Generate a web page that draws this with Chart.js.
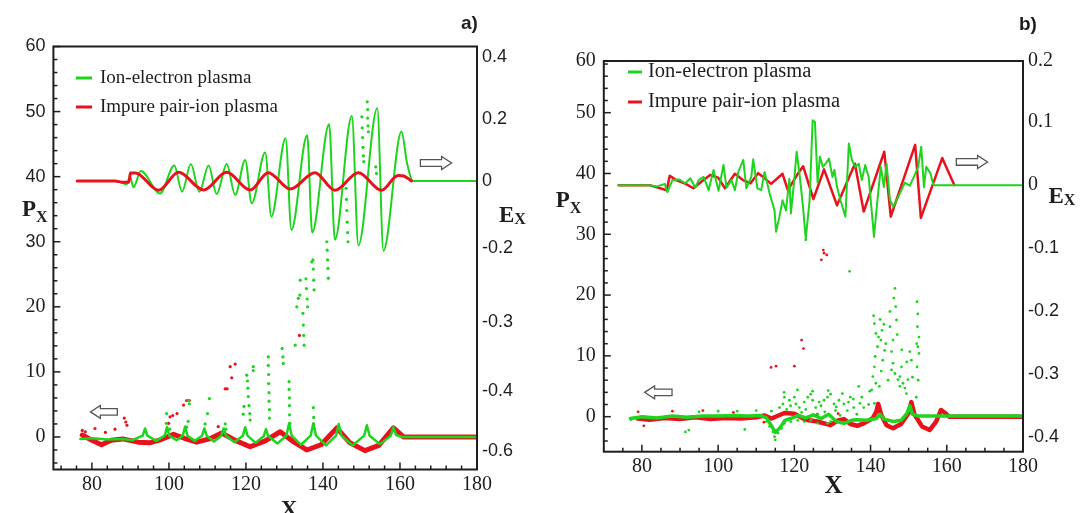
<!DOCTYPE html>
<html>
<head>
<meta charset="utf-8">
<script src="https://cdn.jsdelivr.net/npm/chart.js@4.4.1/dist/chart.umd.min.js"></script>
<style>
  html, body { margin: 0; padding: 0; background: #fff; }
  #wrap { position: relative; width: 1088px; height: 513px; overflow: hidden; }
  canvas { position: absolute; top: 0; }
  #chartA { left: 0; }
  #chartB { left: 540px; }
</style>
</head>
<body>
<div id="wrap">
  <canvas id="chartA" width="540" height="513"></canvas>
  <canvas id="chartB" width="548" height="513"></canvas>
</div>
<script>
// Shared
const xTicks = [80, 100, 120, 140, 160, 180];
const seriesNames = ["Ion-electron plasma", "Impure pair-ion plasma"];

// ---------- Panel a) ----------
// Electric field E_x (right axis), [x, Ex]
const aGreenEx = [[76.2, 0], [86, 0], [87.5, -0.004], [89, -0.011], [89.9, 0.014], [90.8, -0.02], [92.7, 0.032],
  [97.7, -0.04], [101.4, 0.05], [103.4, -0.035], [105.7, 0.055], [107.9, -0.035], [110.3, 0.05], [112.4, -0.042],
  [115, 0.055], [117.2, -0.045], [119.8, 0.068], [121.5, -0.072], [125, 0.092], [126.6, -0.115], [130.3, 0.138],
  [131.8, -0.158], [135.9, 0.148], [137.2, -0.166], [141.6, 0.183], [143.1, -0.19], [147.5, 0.21], [149.2, -0.208],
  [154.1, 0.235], [155.7, -0.225], [160.4, 0.16], [161.8, 0.06], [163.4, 0], [180, 0]];
const aRedEx = [[76.2, 0], [86, 0], [88, -0.004], [89.6, -0.004], [90.0, 0.026], [91.3, 0.026], [97.3, -0.03],
  [102.5, 0.028], [109, -0.029], [115, 0.028], [121.1, -0.029], [125.8, 0.027], [131.5, -0.026], [137.9, 0.027],
  [143.1, -0.03], [149.2, 0.027], [155.2, -0.03], [159.5, 0.018], [161, 0.016], [163, 0]];
// Momentum P_x (left axis), [x, Px]
const aGreenPx = [[77, -0.3], [80, -0.2], [84, -0.4], [88, -0.3], [90.5, -0.5], [93.2, 0.2], [93.8, 1.3], [94.4, 0.2],
  [96.7, -0.6], [98.9, 0.2], [99.5, 1.5], [100.1, 0.2], [102, -0.5], [103.6, 0.2], [104.2, 1.6], [104.8, 0.2],
  [106.7, -0.6], [108.6, 0.2], [109.2, 1.3], [109.8, 0.2], [111.7, -0.7], [113.6, 0.2], [114.2, 1.3], [114.8, 0.2],
  [117, -0.8], [119.2, 0.2], [119.8, 1.5], [120.4, 0.2], [122.5, -0.9], [124.6, 0.1], [125.2, 1.2], [125.8, 0.1],
  [128.2, -1.0], [130.5, 0.2], [131.2, 2.1], [131.9, 0.2], [134.3, -1.2], [136.8, 0.2], [137.5, 2.1], [138.2, 0.2],
  [140.8, -1.3], [143.4, 0.2], [144.1, 2.0], [144.8, 0.2], [147.7, -1.3], [150.7, 0.2], [151.4, 1.8], [152.1, 0.2],
  [154.8, -1.1], [157.6, 0.2], [158.3, 1.5], [159, 0.3], [160.5, 0], [180, 0]];
const aRedPx = [[77.5, 0.3], [80, -0.5], [82.5, -1.2], [85, -0.5], [88, -0.3], [92, -0.8], [95, -0.9], [98, -0.4],
  [101.2, 0.4], [104, -0.2], [107.2, -0.8], [110.5, -0.3], [113.7, 0.6], [117.5, -0.6], [121.1, -1.5], [125, -0.6],
  [128.9, 0.8], [132.5, -0.8], [135.8, -2.0], [139.5, -1.2], [143.6, 1.4], [147, -0.9], [150.9, -2.1], [154.5, -1.3],
  [158.3, 1.4], [160.9, 0], [180, 0]];
const aGreenDots = [[99.4, 3.6], [99.3, 2.1], [100.2, 1.2], [105.1, 5.6], [105.3, 5.1], [105, 2.4], [104.6, 1.5],
  [109.4, 2.0], [110, 3.6], [110.5, 5.9], [114.6, 2.0], [114.8, 1.2], [119.3, 3.5], [119.5, 4.7], [120.2, 9.5],
  [120.4, 8.6], [120.5, 7.5], [120.6, 6.2], [120.8, 4.8], [121, 3.6], [121.1, 2.6], [121.9, 10.8], [121.9, 10.2],
  [125.8, 12.3], [125.8, 11.0], [125.9, 9.6], [125.9, 8.2], [126, 6.8], [126, 5.5], [126.1, 4.2], [126.1, 2.9],
  [129.4, 13.6], [129.6, 12.3], [129.7, 11.3], [131.2, 8.5], [131.2, 7.3], [131.3, 6.0], [131.3, 4.8], [131.3, 3.4],
  [131.4, 2.1], [132.8, 14.1], [133.2, 20], [133.6, 21.3], [134.0, 21.8], [134.1, 24.1], [134.8, 19], [134.9, 17.2],
  [135.0, 15.6], [135.1, 14.1], [135.6, 24.3], [135.7, 22.8], [135.9, 21.2], [136, 20], [137.1, 26.9], [137.4, 27.2],
  [137.5, 25.8], [137.6, 24.1], [137.7, 22.6], [137.5, 4.5], [137.6, 3.0], [137.6, 1.9], [141.0, 30], [141.1, 28.7],
  [141.2, 27.2], [141.3, 25.9], [141.4, 24.4], [146.0, 38.2], [146.1, 36.5], [146.2, 34.8], [146.3, 33.0],
  [146.4, 31.4], [146.5, 30.0], [150.1, 49.2], [150.2, 47.5], [150.3, 46.0], [150.4, 44.5], [150.5, 43.2],
  [150.6, 42.3], [151.5, 51.5], [151.6, 50.3], [151.6, 49.0], [151.7, 47.8], [151.8, 46.9], [153.7, 41.5], [153.9, 40.5]];
const aRedDots = [[77.5, 1.0], [78.3, 0.8], [80.8, 1.3], [83.5, 0.7], [86, 1.2], [88.4, 2.9], [88.8, 2.3], [89.1, 1.8],
  [99.9, 2.1], [100.3, 3.1], [101, 3.3], [102.1, 3.6], [103.8, 4.9], [104.6, 5.6], [105.3, 5.6], [112.8, 1.6],
  [114.6, 7.4], [115.1, 7.4], [115.9, 10.8], [116.3, 9.1], [117.2, 11.2], [133.9, 15.6]];
// Tick values and the labels printed at them
const aLeftTicks = [0, 10, 20, 30, 40, 50, 60];
const aLeftLabels = ["0", "10", "20", "30", "40", "50", "60"];
const aRightTicks = [-0.873, -0.678, -0.454, -0.217, 0, 0.2, 0.4];
const aRightLabels = ["-0.6", "-0.4", "-0.3", "-0.2", "0", "0.2", "0.4"];

// ---------- Panel b) ----------
const bGreenEx = [[73.7, 0], [81.9, 0], [84, -0.002], [86, 0.002], [86.7, -0.011], [88, 0.008], [89.7, 0.009],
  [91.4, 0.003], [92.7, 0.011], [94, -0.004], [94.9, 0.008], [96.2, 0.013], [97.5, -0.008], [98.8, 0.024],
  [100.1, -0.009], [101.4, 0.032], [102.2, -0.004], [103.5, 0.008], [104.4, -0.008], [105.3, 0.021], [106.6, 0.04],
  [107.4, -0.005], [108.7, 0.013], [109.2, 0.041], [110.3, -0.005], [111.3, -0.008], [112.2, 0.021], [113.5, -0.013],
  [114.8, -0.04], [115.2, -0.074], [116.1, -0.05], [116.9, -0.024], [117.8, -0.04], [118.7, 0.01], [119.1, -0.045],
  [120.0, 0.01], [120.6, 0.053], [121.3, 0.021], [122.2, -0.03], [123.0, -0.085], [124.0, -0.024], [124.8, 0.103],
  [125.4, 0.1], [126.1, 0.004], [126.7, 0.045], [127.5, 0.029], [128.3, 0.035], [129.1, 0.042], [130, 0.013],
  [130.5, 0.024], [131.2, -0.003], [132.1, -0.024], [133.4, -0.05], [134.3, 0.066], [135.1, 0.04], [136, 0.029],
  [136.9, 0.034], [137.7, 0.008], [138.6, 0.032], [139.5, 0.013], [140.9, -0.082], [141.8, -0.024], [142.7, 0.029],
  [143.5, -0.003], [144.2, 0.034], [145.1, -0.024], [146, -0.034], [147.7, -0.013], [149, 0.004], [150.3, -0.001],
  [151.5, 0.015], [152.5, 0.029], [153.3, 0.061], [154, -0.003], [154.6, 0.029], [155.7, 0.019], [156.5, 0], [180, 0]];
const bRedEx = [[74, 0], [82, 0], [86.5, -0.008], [87.3, 0.015], [89, 0.008], [91.5, 0.002], [93.5, -0.005],
  [95.5, 0.005], [97.9, 0.016], [100, 0.012], [101.8, -0.005], [104.4, 0.018], [106.5, 0.008], [108.5, 0.003],
  [110.5, 0.019], [112, 0.012], [113.9, 0.002], [116.9, 0.018], [118.3, -0.008], [120.7, 0.016], [122.3, 0.03],
  [125, -0.022], [127.8, 0.025], [131.2, -0.032], [135.9, 0.034], [138.2, -0.042], [143.6, 0.053], [145.3, -0.05],
  [151.7, 0.064], [153.2, -0.052], [158.8, 0.043], [162, 0]];
const bGreenPx = [[77, -0.3], [80, 0], [84, -0.2], [88, 0.1], [92, -0.1], [96, 0.1], [100, 0.1], [104, 0.2], [108, 0.1],
  [111, 0.2], [112.7, -0.2], [114, -1.5], [115, -2.6], [116.3, -1.8], [117.5, -0.6], [119, -0.3], [121, 0.2],
  [123, -0.2], [125, 0.3], [127, -0.3], [129, 0.4], [131, -0.8], [133, -1.1], [135, -0.6], [136.4, -0.5], [139, -0.6],
  [141.5, -0.3], [142.5, 0.4], [143.5, -0.4], [146, -0.8], [148, -0.6], [149.5, 0.5], [150.3, 1.8], [151, 0.4],
  [152.5, 0.1], [156, 0.1], [180, 0.1]];
const bRedPx = [[78.9, -0.3], [82, -0.5], [86, -0.2], [90, -0.4], [94, -0.1], [98, -0.4], [102, -0.2], [106, -0.3],
  [110, -0.1], [112.2, 0.2], [114, -0.3], [117.4, 0.6], [120, 0.5], [123, -0.5], [126, -0.8], [129.5, -1.4],
  [131.5, -0.6], [133, -0.4], [134.7, -1.2], [136.5, -1.5], [138.2, -1.1], [140.5, -0.3], [141.5, 0.8], [142.0, 2.1],
  [142.8, 0.3], [144.2, -1.4], [145.9, -1.9], [148, -1.2], [150, 0.6], [150.7, 2.4], [151.5, 0.4], [153.5, -1.6],
  [155.5, -2.2], [157.2, -0.8], [158.5, 1.1], [159.6, 0.6], [160.6, 0], [180, 0]];
const bGreenDots = [[112.7, -0.8], [113.5, -1.6], [114.4, -2.5], [114.8, -3.3], [115.0, -3.8], [115.7, -2.7],
  [116.6, -1.9], [117.4, -1.1], [114, 0.9], [116.1, 1.5], [117, 2.1], [117.4, 3.2], [118.7, 2.7], [120, 3.2],
  [120.4, 2.1], [121.3, 1.5], [121.9, 0.7], [122.6, 2.4], [123.5, 3.2], [124.3, 3.7], [124.8, 2.7], [125.6, 1.5],
  [126.1, 0.4], [127, 1.8], [127.8, 2.7], [128.7, 3.2], [129.5, 3.7], [130.4, 2.1], [130.8, 1.0], [131.7, 2.7],
  [132.6, 3.8], [133, 2.1], [133.9, 1.0], [134.7, 3.2], [135.6, 1.5], [136.4, 0.4], [136.9, 5.0], [137.7, 3.2],
  [138.2, 1.5], [129.5, -0.8], [128.7, -1.1], [126.1, -1.1], [124.3, -0.6], [122.6, -0.8], [120.9, -0.6],
  [119.1, -0.8], [118, 1.2], [119, 1.8], [123, 1.2], [126.5, 2.4], [128, 0.8], [131, 1.6], [132, 0.2], [134.2, 2.4],
  [135.5, 2.9], [137.2, 2.2], [139.5, 2.0], [139.8, 4.2], [117.3, 4.0], [120.8, 4.4], [124.8, 4.2], [128.9, 4.3],
  [91.4, -2.5], [92.3, -2.2], [77.1, -0.5], [107, -2.1], [95, 0.8], [100, 0.9], [105, 0.9], [110, 1.0],
  [140.8, 16.6], [141.0, 15.3], [141.4, 13.7], [142.1, 13.1], [142.7, 12.6], [143.0, 14.2], [141.8, 11.5],
  [141.2, 9.9], [141.0, 8.2], [140.6, 6.6], [141.4, 5.5], [142.3, 5.0], [143.2, 9.3], [143.7, 10.9], [140.3, 4.4],
  [141.0, 2.2], [145.1, 17.3], [146.4, 21.1], [146.6, 18.1], [146.8, 15.9], [145.9, 12.6], [145.5, 10.7],
  [145.9, 8.8], [146.4, 7.1], [147.2, 6.1], [147.7, 5.0], [145.1, 14.8], [145.5, 7.7], [147.7, 6.6], [148.5, 5.5],
  [149.0, 4.7], [149.8, 6.1], [150.3, 10.7], [150.7, 9.3], [149.4, 3.8], [148.1, 8.2], [152.2, 18.9], [152.4, 16.9],
  [152.3, 14.8], [152.7, 13.1], [152.4, 11.5], [152.7, 10.4], [152.2, 8.2], [152.0, 3.2], [142.5, 16.0],
  [143.5, 15.2], [144.0, 12.0], [142.8, 7.5], [144.6, 6.0], [146.1, 19.5], [147.0, 13.5], [148.2, 11.0],
  [149.5, 9.0], [151.0, 6.5], [152.5, 6.0], [152.1, 12.0], [123.0, 29.1], [134.5, 23.9]];
const bRedDots = [[113.9, 8.1], [115.2, 8.3], [120.0, 8.3], [121.9, 12.6], [122.4, 11.2], [127.1, 25.8], [127.6, 27.4],
  [127.8, 26.9], [128.5, 26.6], [79, 0.8], [80.5, -1.5], [88, 0.9], [96, 1.0], [104, 0.7], [112, -0.9], [124, -0.6],
  [126, 0.4], [131.5, 0.5]];
const bLeftTicks = [0, 10, 20, 30, 40, 50, 58.5];
const bLeftLabels = ["0", "10", "20", "30", "40", "50", "60"];
const bRightTicks = [-0.4, -0.3, -0.2, -0.1, 0, 0.1, 0.197];
const bRightLabels = ["-0.4", "-0.3", "-0.2", "-0.1", "0", "0.1", "0.2"];

// Colours and fonts
const green = "#1ed41e";
const red = "#e8121c";
const ink = "#1e1e1e";
const serif = '"Liberation Serif", "Times New Roman", serif';
const sans = '"Liberation Sans", Arial, sans-serif';

// Turns [x, y] pairs into chart points
function pts(list) {
  return list.map(([x, y]) => ({ x: x, y: y }));
}

function lineSet(list, color, width, axis, order, smooth) {
  return {
    data: pts(list), yAxisID: axis, borderColor: color, borderWidth: width,
    pointRadius: 0, fill: false, order: order, tension: 0,
    cubicInterpolationMode: smooth ? "monotone" : "default",
    borderJoinStyle: "round", borderCapStyle: "round"
  };
}

function dotSet(list, color, r, order) {
  return {
    data: pts(list), yAxisID: "yl", showLine: false, pointRadius: r, pointBorderWidth: 0,
    pointBackgroundColor: color, backgroundColor: color, borderColor: color, order: order
  };
}

function yScale(pos, min, max, ticks, labels, fonts, width, pad) {
  return {
    type: "linear", position: pos, min: min, max: max,
    grid: { display: false, drawTicks: false }, border: { display: false },
    afterBuildTicks: s => { s.ticks = ticks.map(v => ({ value: v })); },
    afterFit: s => { s.width = width; },
    ticks: {
      autoSkip: false, padding: pad, color: ink,
      callback: (v, i) => labels[i],
      font: c => fonts[c.index] === "sans" ? { family: sans, size: 18 } : { family: serif, size: 20 }
    }
  };
}

// Hollow block arrow
function drawArrow(ctx, x0, x1, y, dir) {
  const head = 10, sh = 3.3, hh = 6.5;
  const tip = dir > 0 ? x1 : x0, tail = dir > 0 ? x0 : x1, base = tip - dir * head;
  ctx.beginPath();
  ctx.moveTo(tail, y - sh); ctx.lineTo(base, y - sh); ctx.lineTo(base, y - hh); ctx.lineTo(tip, y);
  ctx.lineTo(base, y + hh); ctx.lineTo(base, y + sh); ctx.lineTo(tail, y + sh); ctx.closePath();
  ctx.fillStyle = "#fff"; ctx.fill();
  ctx.strokeStyle = "#555"; ctx.lineWidth = 1.3; ctx.stroke();
}

// Bold letter with a subscript
function drawSub(ctx, x, y, main, sub, size, drop) {
  ctx.textAlign = "left"; ctx.textBaseline = "alphabetic"; ctx.fillStyle = ink;
  ctx.font = `bold ${size}px ${serif}`;
  ctx.fillText(main, x, y);
  const w = ctx.measureText(main).width;
  ctx.font = `bold ${Math.round(size * 0.7)}px ${serif}`;
  ctx.fillText(sub, x + w, y + drop);
}

// Frame, inward ticks, legend, arrows and titles
function decor(p) {
  return {
    id: "decor",
    afterDraw(chart) {
      const ctx = chart.ctx, a = chart.chartArea, sx = chart.scales.x, sl = chart.scales.yl;
      ctx.save();
      ctx.strokeStyle = ink; ctx.lineWidth = 1.5;
      for (let v = p.xMinorStart; v <= 180; v += p.xMinorStep) {
        const px = sx.getPixelForValue(v), len = v % 20 === 0 ? 7 : 4;
        ctx.beginPath(); ctx.moveTo(px, a.bottom); ctx.lineTo(px, a.bottom - len); ctx.stroke();
      }
      for (let v = -4; v <= sl.max; v += 2) {
        const py = sl.getPixelForValue(v), len = v % 10 === 0 ? 7 : 4;
        ctx.beginPath(); ctx.moveTo(a.left, py); ctx.lineTo(a.left + len, py); ctx.stroke();
      }
      ctx.lineWidth = 2;
      ctx.strokeRect(a.left, a.top, a.right - a.left, a.bottom - a.top);

      // legend
      [green, red].forEach((c, i) => {
        const y = p.legendY[i];
        ctx.strokeStyle = c; ctx.lineWidth = 3;
        ctx.beginPath(); ctx.moveTo(p.dashX[0], y); ctx.lineTo(p.dashX[1], y); ctx.stroke();
        ctx.fillStyle = ink; ctx.font = `${p.legendSize}px ${serif}`;
        ctx.textAlign = "left"; ctx.textBaseline = "middle";
        ctx.fillText(seriesNames[i], p.textX, y);
      });

      // arrows, placed in data units
      p.arrows.forEach(r => {
        drawArrow(ctx, sx.getPixelForValue(r.x0), sx.getPixelForValue(r.x1), sl.getPixelForValue(r.y), r.dir);
      });

      // titles
      ctx.fillStyle = ink; ctx.textAlign = "left"; ctx.textBaseline = "alphabetic";
      ctx.font = `bold ${p.tag.size}px ${sans}`;
      ctx.fillText(p.tag.text, p.tag.x, p.tag.y);
      drawSub(ctx, p.pTitle[0], p.pTitle[1], "P", "X", 23, 6);
      drawSub(ctx, p.eTitle[0], p.eTitle[1], "E", "X", 23, 2);
      ctx.font = `bold ${p.xTitle[2]}px ${serif}`; ctx.textAlign = "center";
      ctx.fillText("X", p.xTitle[0], p.xTitle[1]);
      ctx.restore();
    }
  };
}

function makePanel(id, p) {
  return new Chart(document.getElementById(id), {
    type: "line",
    data: { datasets: p.datasets },
    options: {
      responsive: false, animation: false, events: [], devicePixelRatio: 1,
      layout: { padding: { top: p.top, left: 0, right: 0, bottom: 0 } },
      plugins: { legend: { display: false }, tooltip: { enabled: false } },
      scales: {
        x: {
          type: "linear", min: 70, max: 180,
          grid: { display: false, drawTicks: false }, border: { display: false },
          afterBuildTicks: s => { s.ticks = xTicks.map(v => ({ value: v })); },
          afterFit: s => { s.height = p.xHeight; },
          ticks: { autoSkip: false, maxRotation: 0, padding: 3, color: ink, font: { family: serif, size: 20 } }
        },
        yl: yScale("left", p.yl[0], p.yl[1], p.leftTicks, p.leftLabels, p.leftFonts, p.leftW, 8),
        yr: yScale("right", p.yr[0], p.yr[1], p.rightTicks, p.rightLabels, p.rightFonts, p.rightW, 5)
      }
    },
    plugins: [decor(p)]
  });
}

makePanel("chartA", {
  top: 46.5, leftW: 53.4, rightW: 63, xHeight: 43.5,
  yl: [-5, 60], yr: [-0.931, 0.434],
  leftTicks: aLeftTicks, leftLabels: aLeftLabels,
  leftFonts: ["serif", "serif", "serif", "sans", "sans", "sans", "sans"],
  rightTicks: aRightTicks, rightLabels: aRightLabels,
  rightFonts: ["sans", "sans", "sans", "sans", "sans", "sans", "sans"],
  xMinorStart: 72, xMinorStep: 4,
  legendY: [78, 107], dashX: [76, 92], textX: 100, legendSize: 19,
  arrows: [{ x0: 165.3, x1: 173.4, y: 42.1, dir: 1 }, { x0: 79.6, x1: 86.6, y: 3.85, dir: -1 }],
  tag: { text: "a)", x: 461, y: 29, size: 19 },
  pTitle: [22, 216], eTitle: [499, 222], xTitle: [289, 516, 23],
  datasets: [
    dotSet(aGreenDots, green, 1.6, 0),
    dotSet(aRedDots, red, 1.6, 1),
    lineSet(aGreenPx, green, 2.5, "yl", 2, false),
    lineSet(aRedPx, red, 5, "yl", 3, false),
    lineSet(aRedEx, red, 3, "yr", 4, true),
    lineSet(aGreenEx, green, 2, "yr", 5, true)
  ]
});

makePanel("chartB", {
  top: 61, leftW: 63.8, rightW: 65, xHeight: 61.3,
  yl: [-5.76, 58.5], yr: [-0.423, 0.197],
  leftTicks: bLeftTicks, leftLabels: bLeftLabels,
  leftFonts: ["serif", "serif", "serif", "serif", "serif", "serif", "serif"],
  rightTicks: bRightTicks, rightLabels: bRightLabels,
  rightFonts: ["sans", "sans", "sans", "sans", "serif", "serif", "serif"],
  xMinorStart: 75, xMinorStep: 5,
  legendY: [72, 102], dashX: [88, 102], textX: 108, legendSize: 20.5,
  arrows: [{ x0: 162.5, x1: 170.7, y: 41.9, dir: 1 }, { x0: 80.7, x1: 87.9, y: 4.0, dir: -1 }],
  tag: { text: "b)", x: 479, y: 30, size: 19 },
  pTitle: [15.7, 207], eTitle: [508.5, 203], xTitle: [293.6, 493, 25],
  datasets: [
    dotSet(bGreenDots, green, 1.4, 0),
    dotSet(bRedDots, red, 1.4, 1),
    lineSet(bGreenPx, green, 3.5, "yl", 2, false),
    lineSet(bRedPx, red, 4.5, "yl", 3, false),
    lineSet(bGreenEx, green, 2, "yr", 4, false),
    lineSet(bRedEx, red, 2.5, "yr", 5, false)
  ]
});
</script>
</body>
</html>
